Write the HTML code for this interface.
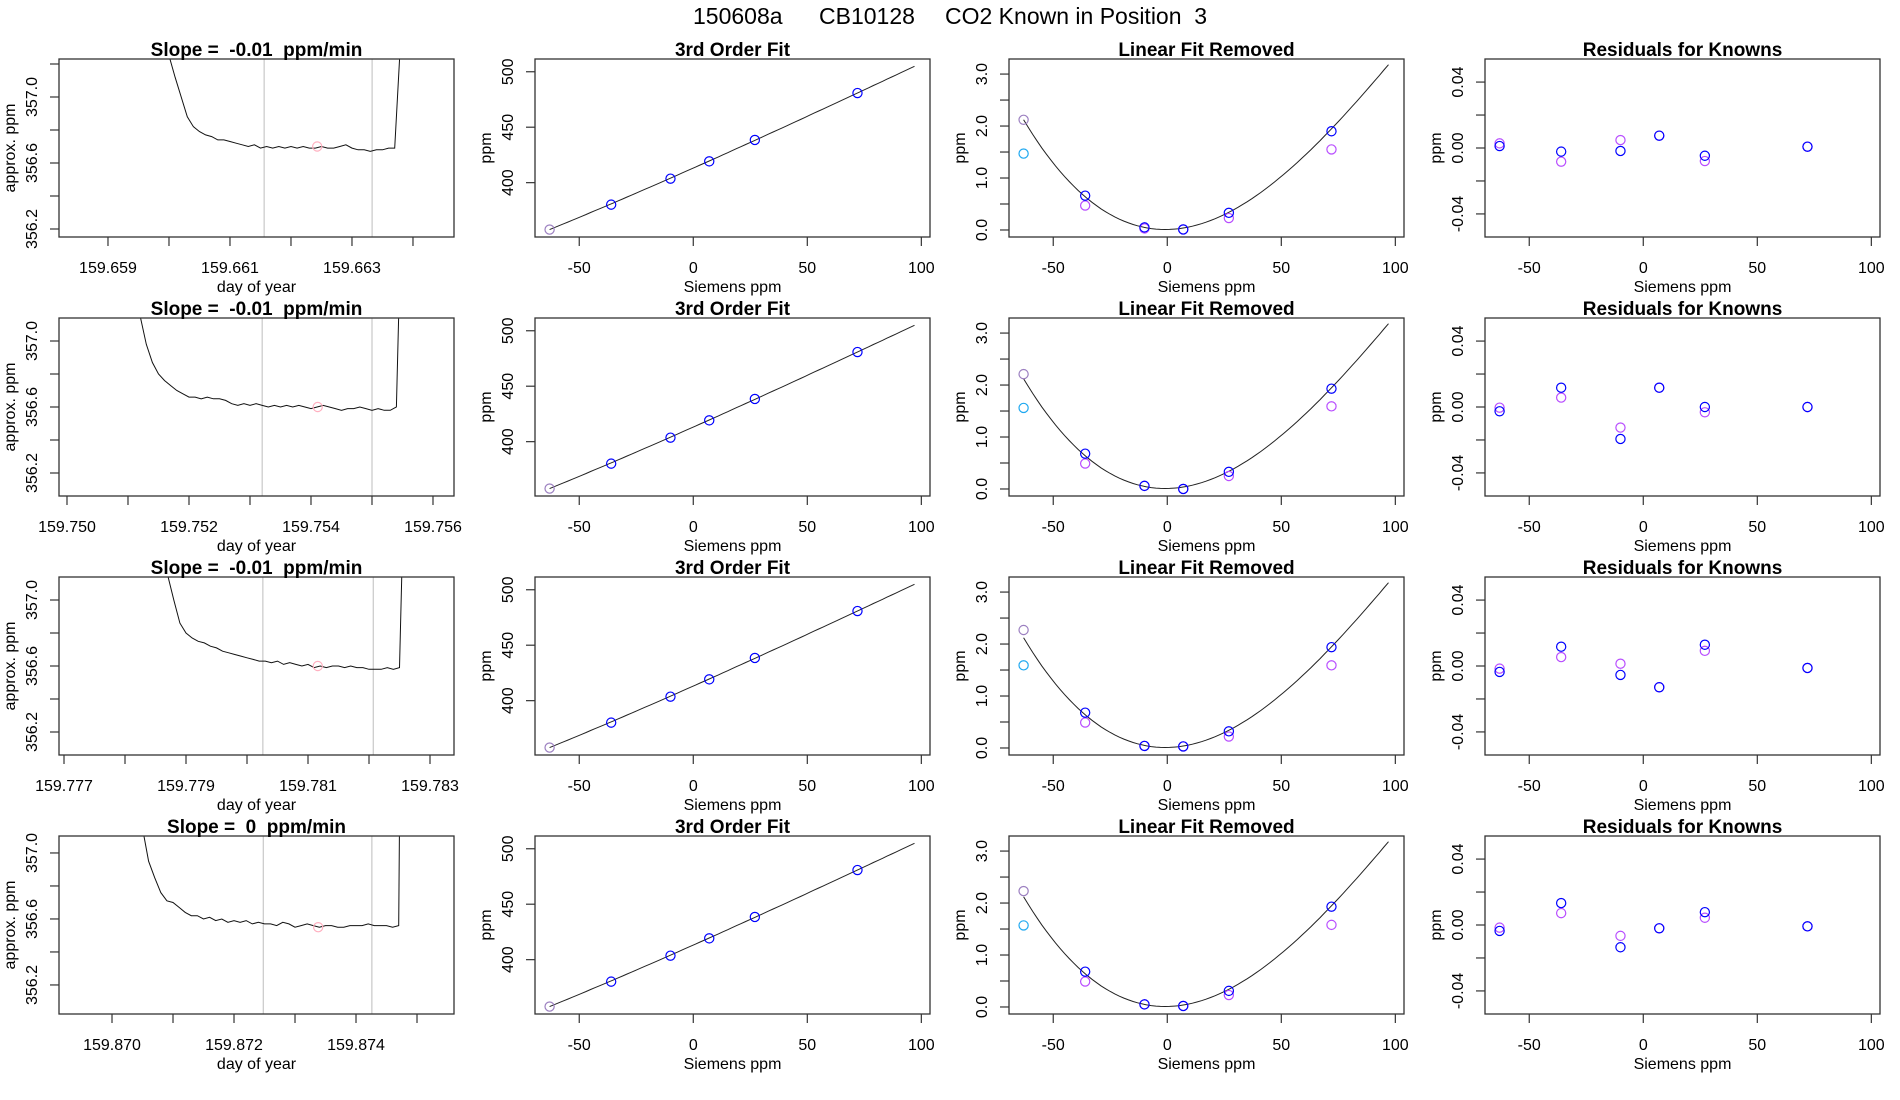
<!DOCTYPE html>
<html><head><meta charset="utf-8"><title>CO2 Known in Position 3</title>
<style>
html,body{margin:0;padding:0;background:#fff;}
svg{display:block;font-family:"Liberation Sans",Arial,sans-serif;}
</style></head>
<body>
<svg id="chart" width="1900" height="1100" viewBox="0 0 1900 1100" xmlns="http://www.w3.org/2000/svg">
<rect x="0" y="0" width="1900" height="1100" fill="#fff"/>
<text x="693" y="24" font-size="23" fill="#000">150608a</text>
<text x="819" y="24" font-size="23" fill="#000">CB10128</text>
<text x="945" y="24" font-size="23" fill="#000" xml:space="preserve">CO2 Known in Position  3</text>
</svg>
<script>
// ---------- data ----------
const rowTitles = ["Slope =  -0.01  ppm/min","Slope =  -0.01  ppm/min","Slope =  -0.01  ppm/min","Slope =  0  ppm/min"];
const dayMin = [159.658197,159.749869,159.776918,159.869131];
const daySpan = 0.0064754;
const ppmMin = [356.1515,356.0606,356.0606,356.024];
const ppmSpan = 1.0788;
const tsStart = [159.6600,159.7512,159.7787,159.8705];
const tsStep = 0.0001;
const tsRow1 = [357.25,357.12,357.0,356.88,356.82,356.79,356.77,356.76,356.74,356.74,356.73,356.72,356.71,356.70,356.71,356.69,356.70,356.69,356.70,356.69,356.70,356.69,356.70,356.69,356.69,356.70,356.69,356.69,356.70,356.71,356.69,356.68,356.68,356.67,356.68,356.68,356.69,356.69];
const tsRow2 = [357.15,356.98,356.87,356.80,356.76,356.73,356.70,356.68,356.66,356.66,356.65,356.66,356.65,356.65,356.64,356.62,356.61,356.62,356.61,356.62,356.61,356.60,356.61,356.60,356.61,356.60,356.61,356.60,356.59,356.60,356.61,356.60,356.59,356.58,356.59,356.59,356.60,356.59,356.58,356.59,356.58,356.58,356.60];
const tsRow3 = [357.15,357.0,356.86,356.80,356.77,356.75,356.74,356.72,356.71,356.69,356.68,356.67,356.66,356.65,356.64,356.63,356.63,356.62,356.63,356.61,356.62,356.61,356.60,356.61,356.59,356.60,356.59,356.60,356.60,356.59,356.60,356.59,356.59,356.58,356.58,356.58,356.59,356.58,356.59];
const tsRow4 = [357.15,356.95,356.85,356.76,356.71,356.70,356.67,356.64,356.62,356.62,356.60,356.61,356.59,356.60,356.58,356.59,356.58,356.59,356.57,356.58,356.57,356.57,356.56,356.58,356.57,356.55,356.56,356.57,356.56,356.55,356.56,356.56,356.55,356.55,356.56,356.56,356.56,356.57,356.56,356.56,356.56,356.55,356.56];
const tsRows = [tsRow1,tsRow2,tsRow3,tsRow4];
const tsEndTime = [159.66382,159.75546,159.78256,159.87472];
const tsEndValue = 357.5;
const markerTime = [159.66243,159.75411,159.78116,159.87338];
const markerValue = [356.70,356.60,356.60,356.55];
const windowStart = [159.66156,159.75320,159.78026,159.87248];
const windowEnd = [159.66333,159.75500,159.78207,159.87426];

const siemens = [-63,-36,-10,7,27,72];
const fitPoints = [357.7,380.2,403.6,419.2,438.5,480.8];
const linearCoef = [413.13,0.9135];
const cubicCoef = [0.01,0.000793,4.594e-4,-1.3457e-6];
const fitXEnd = 97;

const linRemFirst = [2.12,2.21,2.27,2.23];
const linRemCyan = [1.47,1.56,1.59,1.57];
const linRemBlue = [[0.66,0.05,0.01,0.33,1.90],[0.68,0.06,0.00,0.33,1.93],[0.68,0.04,0.03,0.32,1.94],[0.68,0.05,0.02,0.31,1.93]];
const linRemViolet = [[0.47,0.03,0.01,0.23,1.55],[0.49,0.06,0.00,0.25,1.59],[0.49,0.04,0.03,0.22,1.59],[0.49,0.05,0.02,0.23,1.58]];

const residBlue = [[0.0012,-0.0022,-0.0018,0.0075,-0.0047,0.0008],[-0.0026,0.0117,-0.0194,0.0117,0.0,0.0],[-0.0036,0.0117,-0.0054,-0.0129,0.0129,-0.0012],[-0.0036,0.0133,-0.0135,-0.002,0.0078,-0.0008]];
const residViolet = [[0.0028,-0.0083,0.0048,0.0075,-0.0079,0.0008],[-0.0004,0.0057,-0.0125,0.0117,-0.0032,0.0],[-0.0016,0.0054,0.0014,-0.0129,0.0092,-0.0012],[-0.0016,0.0072,-0.0066,-0.002,0.0044,-0.0008]];

const xTicksSiemens = [-50,0,50,100];
const yTicksFit = [400,450,500];
const yTicksLin = [0,0.5,1,1.5,2,2.5,3];
const yLabelsLin = [0,1,2,3];
const yTicksRes = [-0.04,-0.02,0,0.02,0.04];
const yLabelsRes = [-0.04,0,0.04];

// ---------- layout ----------
const NS = "http://www.w3.org/2000/svg";
const svg = document.getElementById("chart");
const colOff = [0,476,950,1426];
const PL = 59, PW = 395, PH = 178, ROW0 = 59, ROWSTEP = 259;
const sxMin = -69.4, sxSpan = 173.2;
const fitMin = 351.0, fitSpan = 160.5;
const linMin = -0.135, linSpan = 3.425;
const resMin = -0.054, resSpan = 0.108;
const BLUE = "#0000ff", VIOLET = "#b84dff", CYAN = "#1fa8f0", MIX = "#9b7fc0";

function mk(tag, attrs, parent) {
  const e = document.createElementNS(NS, tag);
  for (const k in attrs) e.setAttribute(k, attrs[k]);
  parent.appendChild(e);
  return e;
}

function frame(g, x0, y0, name) {
  const f = mk("rect", {x:x0, y:y0, width:PW, height:PH, fill:"none", stroke:"#333", "stroke-width":1.3}, g);
  
  
}

function xAxis(g, x0, y0, ticks, labels, fx, fmt, title) {
  ticks.forEach(function(t, i) {
    const x = fx(t);
    const tk = mk("line", {x1:x, x2:x, y1:y0+PH, y2:y0+PH+9, stroke:"#333", "stroke-width":1.2}, g);
    
    
    if (labels[i]) {
      const tl = mk("text", {x:x, y:y0+PH+36, "font-size":16, "text-anchor":"middle", fill:"#000"}, g);
      tl.textContent = fmt(t);
      
      
    }
  });
  const at = mk("text", {x:x0+PW/2, y:y0+PH+55, "font-size":16, "text-anchor":"middle", fill:"#000"}, g);
  at.textContent = title;
  
  
}

function yAxis(g, x0, y0, ticks, labels, fy, fmt, title) {
  ticks.forEach(function(t, i) {
    const y = fy(t);
    const tk = mk("line", {x1:x0-9, x2:x0, y1:y, y2:y, stroke:"#333", "stroke-width":1.2}, g);
    
    
    if (labels[i]) {
      const tx = x0 - 22;
      const tl = mk("text", {x:tx, y:y, "font-size":16, "text-anchor":"middle", fill:"#000", transform:"rotate(-90 "+tx+" "+y+")"}, g);
      tl.textContent = fmt(t);
      
      
    }
  });
  const ax = x0 - 44, ay = y0 + PH/2;
  const at = mk("text", {x:ax, y:ay, "font-size":16, "text-anchor":"middle", fill:"#000", transform:"rotate(-90 "+ax+" "+ay+")"}, g);
  at.textContent = title;
  
  
}

function panelTitle(g, x0, y0, txt) {
  const t = mk("text", {x:x0+PW/2, y:y0-3, "font-size":19, "font-weight":"bold", "text-anchor":"middle", fill:"#000"}, g);
  t.setAttribute("xml:space", "preserve");
  t.style.whiteSpace = "pre";
  t.textContent = txt;
  
  
}

function circle(g, x, y, color, name) {
  const c = mk("circle", {cx:x, cy:y, r:4.6, fill:"none", stroke:color, "stroke-width":1.2}, g);
  
  
}

function cubicVal(x) { return cubicCoef[0] + cubicCoef[1]*x + cubicCoef[2]*x*x + cubicCoef[3]*x*x*x; }

for (let r = 0; r < 4; r++) {
  const y0 = ROW0 + r*ROWSTEP;

  // ---- column 1: time series ----
  {
    const x0 = colOff[0] + PL;
    const g = mk("g", {}, svg);
    
    
    const fx = function(d) { return x0 + (d - dayMin[r]) / daySpan * PW; };
    const fy = function(v) { return y0 + PH - (v - ppmMin[r]) / ppmSpan * PH; };
    const cid = "clip-ts-" + r;
    const cp = mk("clipPath", {id:cid}, g);
    mk("rect", {x:x0, y:y0, width:PW, height:PH}, cp);
    [windowStart[r], windowEnd[r]].forEach(function(d) {
      const l = mk("line", {x1:fx(d), x2:fx(d), y1:y0, y2:y0+PH, stroke:"#c8c8c8", "stroke-width":1.2}, g);
      
      
    });
    const vals = tsRows[r];
    let pts = [];
    for (let i = 0; i < vals.length; i++) pts.push(fx(tsStart[r] + i*tsStep).toFixed(1) + "," + fy(vals[i]).toFixed(1));
    pts.push(fx(tsEndTime[r]).toFixed(1) + "," + fy(tsEndValue).toFixed(1));
    const pl = mk("polyline", {points:pts.join(" "), fill:"none", stroke:"#111", "stroke-width":1, "clip-path":"url(#"+cid+")"}, g);
    
    
    circle(g, fx(markerTime[r]), fy(markerValue[r]), "#ffb0c0", "mean-marker");
    frame(g, x0, y0, "plot-frame");
    const ticks = [], labs = [];
    const first = Math.ceil(dayMin[r]*1000 - 1e-6)/1000;
    for (let i = 0; first + i*0.001 <= dayMin[r] + daySpan; i++) { ticks.push(first + i*0.001); labs.push(i % 2 === 0); }
    xAxis(g, x0, y0, ticks, labs, fx, function(t){ return t.toFixed(3); }, "day of year");
    const yt = [], yl = [];
    const yfirst = Math.ceil(ppmMin[r]*5 - 1e-6)/5;
    for (let i = 0; yfirst + i*0.2 <= ppmMin[r] + ppmSpan; i++) {
      const v = yfirst + i*0.2; yt.push(v);
      yl.push(Math.abs(Math.round(v*10) % 4 - 2) < 0.5);
    }
    yAxis(g, x0, y0, yt, yl, fy, function(t){ return t.toFixed(1); }, "approx. ppm");
    panelTitle(g, x0, y0, rowTitles[r]);
  }

  const sfx = function(x0) { return function(v) { return x0 + (v - sxMin) / sxSpan * PW; }; };

  // ---- column 2: 3rd order fit ----
  {
    const x0 = colOff[1] + PL;
    const g = mk("g", {}, svg);
    
    
    const fx = sfx(x0);
    const fy = function(v) { return y0 + PH - (v - fitMin) / fitSpan * PH; };
    let pts = [];
    for (let x = siemens[0]; x <= fitXEnd + 0.01; x += 2) {
      const v = linearCoef[0] + linearCoef[1]*x + cubicVal(x);
      pts.push(fx(x).toFixed(1) + "," + fy(v).toFixed(1));
    }
    const pl = mk("polyline", {points:pts.join(" "), fill:"none", stroke:"#222", "stroke-width":1}, g);
    
    
    siemens.forEach(function(s, i) { circle(g, fx(s), fy(fitPoints[i]), i === 0 ? MIX : BLUE, "fit-point"); });
    frame(g, x0, y0, "plot-frame");
    xAxis(g, x0, y0, xTicksSiemens, [1,1,1,1], fx, String, "Siemens ppm");
    yAxis(g, x0, y0, yTicksFit, [1,1,1], fy, String, "ppm");
    panelTitle(g, x0, y0, "3rd Order Fit");
  }

  // ---- column 3: linear fit removed ----
  {
    const x0 = colOff[2] + PL;
    const g = mk("g", {}, svg);
    
    
    const fx = sfx(x0);
    const fy = function(v) { return y0 + PH - (v - linMin) / linSpan * PH; };
    let pts = [];
    for (let x = siemens[0]; x <= fitXEnd + 0.01; x += 2) pts.push(fx(x).toFixed(1) + "," + fy(cubicVal(x)).toFixed(1));
    const pl = mk("polyline", {points:pts.join(" "), fill:"none", stroke:"#222", "stroke-width":1}, g);
    
    
    circle(g, fx(siemens[0]), fy(linRemFirst[r]), MIX, "point-lowest-known");
    circle(g, fx(siemens[0]), fy(linRemCyan[r]), CYAN, "point-cyan");
    for (let i = 0; i < 5; i++) circle(g, fx(siemens[i+1]), fy(linRemViolet[r][i]), VIOLET, "point-violet");
    for (let i = 0; i < 5; i++) circle(g, fx(siemens[i+1]), fy(linRemBlue[r][i]), BLUE, "point-blue");
    frame(g, x0, y0, "plot-frame");
    xAxis(g, x0, y0, xTicksSiemens, [1,1,1,1], fx, String, "Siemens ppm");
    yAxis(g, x0, y0, yTicksLin, yTicksLin.map(function(t){ return yLabelsLin.indexOf(t) >= 0; }), fy, function(t){ return t.toFixed(1); }, "ppm");
    panelTitle(g, x0, y0, "Linear Fit Removed");
  }

  // ---- column 4: residuals ----
  {
    const x0 = colOff[3] + PL;
    const g = mk("g", {}, svg);
    
    
    const fx = sfx(x0);
    const fy = function(v) { return y0 + PH - (v - resMin) / resSpan * PH; };
    siemens.forEach(function(s, i) { circle(g, fx(s), fy(residViolet[r][i]), VIOLET, "residual-violet"); });
    siemens.forEach(function(s, i) { circle(g, fx(s), fy(residBlue[r][i]), BLUE, "residual-blue"); });
    frame(g, x0, y0, "plot-frame");
    xAxis(g, x0, y0, xTicksSiemens, [1,1,1,1], fx, String, "Siemens ppm");
    yAxis(g, x0, y0, yTicksRes, yTicksRes.map(function(t){ return yLabelsRes.indexOf(t) >= 0; }), fy, function(t){ return t.toFixed(2); }, "ppm");
    panelTitle(g, x0, y0, "Residuals for Knowns");
  }
}
</script>
</body></html>
